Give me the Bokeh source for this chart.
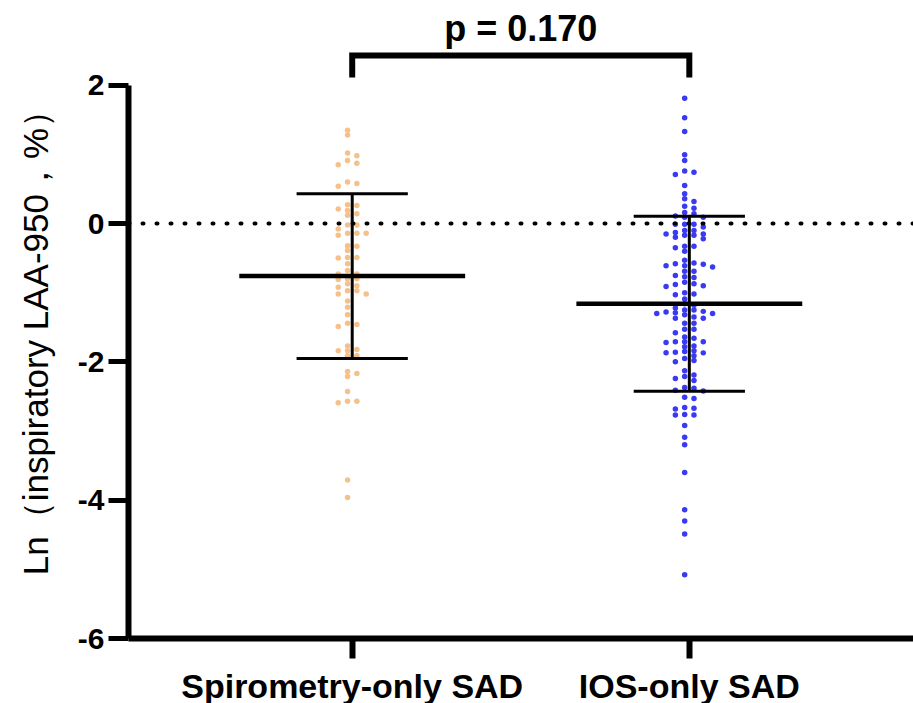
from bokeh.plotting import figure
from bokeh.models import FixedTicker, Span, Label
from bokeh.embed import file_html
from bokeh.resources import INLINE

# ---- data ----
groups = ["Spirometry-only SAD", "IOS-only SAD"]
spiro_vals = [1.35, 1.28, 1.02, 0.98, 0.91, 0.87, 0.85, 0.60, 0.58, 0.54,
              0.27, 0.26, 0.21, 0.19, 0.14, 0.12,
              -0.02, -0.02, -0.08, -0.14, -0.14, -0.14, -0.17,
              -0.32, -0.33, -0.39, -0.49, -0.49, -0.50, -0.58,
              -0.68, -0.73, -0.73, -0.80, -0.80, -0.81, -0.87, -0.90, -0.92,
              -0.97, -0.97, -1.02, -1.02,
              -1.12, -1.21, -1.32, -1.44, -1.46, -1.49,
              -1.77, -1.82, -1.84, -1.84, -1.91, -1.91,
              -2.14, -2.17, -2.21, -2.43, -2.57, -2.57, -2.59, -3.71, -3.96]
ios_vals = [1.81, 1.53, 1.33,
            0.995, 0.91, 0.76, 0.74, 0.71, 0.55, 0.43, 0.36, 0.32, 0.25, 0.22,
            0.16, 0.14, 0.11, 0.09, 0.09,
            -0.01, -0.01, -0.01, -0.05,
            -0.10, -0.10, -0.13, -0.15, -0.15, -0.17, -0.17, -0.20, -0.22,
            -0.33, -0.33, -0.35, -0.40,
            -0.53, -0.57, -0.58, -0.59, -0.61, -0.61, -0.63, -0.69, -0.69,
            -0.75, -0.77, -0.78,
            -0.85, -0.87, -0.88, -0.90, -0.91, -1.00, -1.02, -1.03, -1.09,
            -1.16, -1.18, -1.22, -1.25, -1.25, -1.27, -1.28, -1.29, -1.30,
            -1.30, -1.32, -1.35, -1.37, -1.37, -1.44, -1.44,
            -1.53, -1.53, -1.58, -1.64, -1.66, -1.71, -1.71, -1.71, -1.72,
            -1.77, -1.78, -1.84, -1.85, -1.86, -1.87, -1.87, -1.91, -1.95, -1.98,
            -2.00, -2.13, -2.19, -2.21, -2.24, -2.27, -2.37, -2.38, -2.41,
            -2.42, -2.51, -2.53,
            -2.66, -2.67, -2.68, -2.76, -2.77, -2.77, -2.92, -3.09, -3.20,
            -3.60, -4.14, -4.30, -4.49, -5.08]
means = [-0.76, -1.16]
sds = [1.19, 1.265]
p_text = "p = 0.170"
y_ticks = [2, 0, -2, -4, -6]
y_tick_labels = ["2", "0", "-2", "-4", "-6"]

group_x = [1, 2]
colors = ["#F6C08A", "#3A3AF2"]

X_START, X_END = 0.3364, 2.665
Y_START, Y_END = -6.0, 3.225
STEP = 0.0276       # swarm column spacing (x units)
THR = 0.065         # minimal vertical gap in one column (y units)


def swarm(vals):
    order = sorted(range(len(vals)), key=lambda i: -vals[i])
    cands = [-0.5, 0.5, -1.5, 1.5, -2.5, 2.5, -3.5, 3.5, -4.5, 4.5]
    placed = {c: [] for c in cands}
    offs = [0.0] * len(vals)
    for i in order:
        v = vals[i]
        for c in cands:
            if all(abs(v - u) >= THR for u in placed[c]):
                placed[c].append(v)
                offs[i] = c * STEP
                break
    return offs


p = figure(frame_width=785, frame_height=638, width=913, height=703,
           x_range=(X_START, X_END), y_range=(Y_START, Y_END),
           output_backend="svg", toolbar_location=None,
           min_border_left=128, min_border_right=0, min_border_top=0,
           min_border_bottom=65)
p.outline_line_color = None
p.xgrid.visible = False
p.ygrid.visible = False
p.background_fill_color = "white"

# zero reference line
p.add_layout(Span(location=0, dimension="width", line_color="black",
                  line_width=4, line_dash="1 13", line_cap="round"))

for gx, vals, col in zip(group_x, [spiro_vals, ios_vals], colors):
    offs = swarm(vals)
    p.scatter([gx + o for o in offs], vals, size=5.5, fill_color=col,
              line_color=None)

# mean and SD
for gx, m, s in zip(group_x, means, sds):
    p.segment(x0=[gx - 0.335], y0=[m], x1=[gx + 0.335], y1=[m],
              line_color="black", line_width=4.5)
    p.segment(x0=[gx, gx - 0.165, gx - 0.165], y0=[m - s, m + s, m - s],
              x1=[gx, gx + 0.165, gx + 0.165], y1=[m + s, m + s, m - s],
              line_color="black", line_width=3)

# significance bracket
p.line([group_x[0], group_x[0], group_x[1], group_x[1]],
       [2.11, 2.43, 2.43, 2.11], line_color="black", line_width=6,
       line_join="miter")
p.add_layout(Label(x=(group_x[0] + group_x[1]) / 2, y=2.82, text=p_text,
                   text_align="center", text_baseline="middle",
                   text_font="Liberation Sans", text_font_style="bold",
                   text_font_size="36px", text_color="black"))

# axes
yax = p.yaxis[0]
yax.ticker = FixedTicker(ticks=y_ticks)
yax.major_label_overrides = {t: l for t, l in zip(y_ticks, y_tick_labels)}
yax.bounds = (-6, 2)
yax.minor_tick_line_color = None
yax.major_tick_out = 20
yax.major_tick_in = 0
yax.major_tick_line_width = 5
yax.axis_line_width = 6
yax.major_label_text_font = "Liberation Sans"
yax.major_label_text_font_style = "bold"
yax.major_label_text_font_size = "30px"
yax.major_label_text_color = "black"
yax.major_label_standoff = 4
yax.axis_label = "Ln\uff08inspiratory LAA-950\uff0c%\uff09\u00a0\u00a0\u00a0"
yax.axis_label_text_font = "Liberation Sans"
yax.axis_label_text_font_style = "normal"
yax.axis_label_text_font_size = "35px"
yax.axis_label_text_color = "black"
yax.axis_label_standoff = 20

xax = p.xaxis[0]
xax.ticker = FixedTicker(ticks=group_x)
xax.major_label_overrides = {gx: g for gx, g in zip(group_x, groups)}
xax.minor_tick_line_color = None
xax.major_tick_out = 20
xax.major_tick_in = 0
xax.major_tick_line_width = 6
xax.axis_line_width = 6
xax.major_label_text_font = "Liberation Sans"
xax.major_label_text_font_style = "bold"
xax.major_label_text_font_size = "34px"
xax.major_label_text_color = "black"
xax.major_label_standoff = 8

open("out.html", "w").write(file_html(p, INLINE))
